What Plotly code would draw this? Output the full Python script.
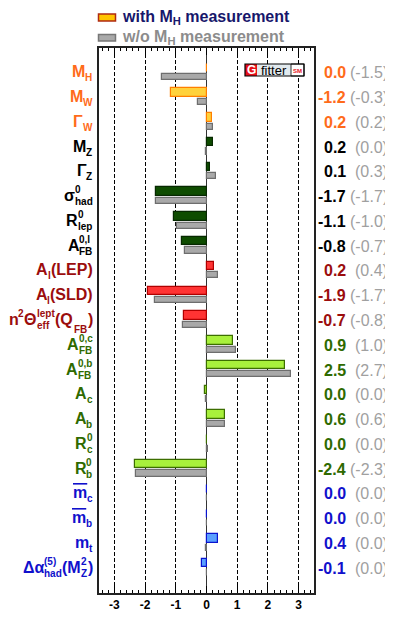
import plotly.graph_objects as go

# ---------------- data ----------------
# label tokens: ("b", text) base, ("u", sub), ("p", sup), ("s", sup, sub) stacked, ("o", overlined base), ("q", low sub)
labels = [
    [("b", "M"), ("u", "H")],
    [("b", "M"), ("u", "W")],
    [("b", "Γ"), ("u", "W")],
    [("b", "M"), ("u", "Z")],
    [("b", "Γ"), ("u", "Z")],
    [("b", "σ"), ("s", "0", "had")],
    [("b", "R"), ("s", "0", "lep")],
    [("b", "A"), ("s", "0,l", "FB")],
    [("b", "A"), ("u", "l"), ("b", "(LEP)")],
    [("b", "A"), ("u", "l"), ("b", "(SLD)")],
    [("b", "n"), ("p", "2"), ("b", "Θ"), ("s", "lept", "eff"), ("b", "(Q"), ("q", "FB"), ("b", ")")],
    [("b", "A"), ("s", "0,c", "FB")],
    [("b", "A"), ("s", "0,b", "FB")],
    [("b", "A"), ("u", "c")],
    [("b", "A"), ("u", "b")],
    [("b", "R"), ("s", "0", "c")],
    [("b", "R"), ("s", "0", "b")],
    [("o", "m"), ("u", "c")],
    [("o", "m"), ("u", "b")],
    [("b", "m"), ("u", "t")],
    [("b", "Δα"), ("s", "(5)", "had"), ("b", "(M"), ("s", "2", "Z"), ("b", ")")],
]
with_mh = [0.03, -1.17, 0.17, 0.2, 0.12, -1.65, -1.05, -0.79, 0.26, -1.9, -0.73,
           0.87, 2.54, -0.05, 0.59, 0.02, -2.33, 0.01, 0.01, 0.39, -0.15]
without_mh = [-1.46, -0.28, 0.2, -0.03, 0.3, -1.65, -0.95, -0.69, 0.36, -1.69, -0.76,
              0.95, 2.75, -0.02, 0.59, 0.05, -2.3, 0.0, 0.0, -0.03, 0.03]
with_txt = ["0.0", "-1.2", "0.2", "0.2", "0.1", "-1.7", "-1.1", "-0.8", "0.2", "-1.9", "-0.7",
            "0.9", "2.5", "0.0", "0.6", "0.0", "-2.4", "0.0", "0.0", "0.4", "-0.1"]
without_txt = ["(-1.5)", "(-0.3)", "(0.2)", "(0.0)", "(0.3)", "(-1.7)", "(-1.0)", "(-0.7)",
               "(0.4)", "(-1.7)", "(-0.8)", "(1.0)", "(2.7)", "(0.0)", "(0.6)", "(0.0)",
               "(-2.3)", "(0.0)", "(0.0)", "(0.0)", "(0.0)"]
groups = ["W"] * 3 + ["Z"] * 5 + ["L"] * 3 + ["H"] * 6 + ["Q"] * 4
tick_vals = [-3, -2, -1, 0, 1, 2, 3]
tick_text = ["-3", "-2", "-1", "0", "1", "2", "3"]

# ---------------- styles ----------------
fill = {"W": "#FFD23C", "Z": "#0E4C00", "L": "#FF3333", "H": "#A8F03C", "Q": "#5AA0FF"}
edge = {"W": "#FF7F00", "Z": "#062800", "L": "#B00000", "H": "#3C6E00", "Q": "#0A14D0"}
txtc = {"W": "#FF6B1A", "Z": "#000000", "L": "#9B0D0D", "H": "#2F6A00", "Q": "#1010CC"}
FONT = "Liberation Sans"
BASE, SCR = 16, 10

# approximate bold glyph widths (per 1000 em)
CW = {" ": 278, "(": 333, ")": 333, ",": 278, ".": 278, "0": 556, "2": 556, "5": 556,
      "A": 722, "B": 722, "D": 722, "E": 667, "F": 611, "H": 722, "L": 611, "M": 833, "P": 667,
      "Q": 778, "R": 722, "S": 667, "W": 944, "Z": 611,
      "a": 556, "b": 611, "c": 556, "d": 611, "e": 556, "f": 333, "h": 611, "l": 278, "m": 889,
      "n": 611, "p": 611, "t": 333, "Γ": 611, "Θ": 778, "Δ": 700, "α": 640, "σ": 640}


def tw(s, size):
    return sum(CW.get(c, 600) for c in s) * size / 1000.0


OFF = 8  # page body margin of the html page
L, R, T, B = 99 - OFF, 314 - OFF, 48 - OFF, 593 - OFF


def PX(px):  # reference pixel -> paper x
    return (px - OFF - L) / (R - L)


def PY(py):
    return (B - (py - OFF)) / (B - T)


ypos = list(range(len(groups)))

fig = go.Figure()
fig.add_trace(go.Bar(
    x=with_mh, y=ypos, orientation="h", width=0.34, offset=-0.37,
    marker=dict(color=[fill[g] for g in groups],
                line=dict(color=[edge[g] for g in groups], width=1.2)),
    showlegend=False, hoverinfo="skip"))
fig.add_trace(go.Bar(
    x=without_mh, y=ypos, orientation="h", width=0.25, offset=0.05,
    marker=dict(color="#A9A9A9", line=dict(color="#6E6E6E", width=1.2)),
    showlegend=False, hoverinfo="skip"))

ann = []


def piece(i, xs, text, size, color, ysh):
    ann.append(dict(xref="paper", yref="y", x=PX(93), xshift=xs, y=i, yshift=ysh,
                    xanchor="left", yanchor="middle", text=text, showarrow=False,
                    borderpad=0, borderwidth=0,
                    font=dict(family=FONT, size=size, color=color, weight="bold")))


Y_B, Y_P, Y_U, Y_Q = 1, 7, -5, -9
for i, g in enumerate(groups):
    toks = labels[i]
    widths = []
    for t in toks:
        if t[0] in ("b", "o"):
            widths.append(tw(t[1], BASE))
        elif t[0] == "s":
            widths.append(max(tw(t[1], SCR), tw(t[2], SCR)) + 0.5)
        elif t[0] == "q":
            widths.append(tw(t[1], SCR) + 1.5)
        else:
            widths.append(tw(t[1], SCR) + 0.5)
    x = -sum(widths)
    c = txtc[g]
    for t, w in zip(toks, widths):
        k = t[0]
        if k == "b":
            piece(i, x, t[1], BASE, c, Y_B)
        elif k == "o":
            piece(i, x, "<span style='text-decoration:overline'>%s</span>" % t[1], BASE, c, Y_B)
        elif k == "u":
            piece(i, x, t[1], SCR, c, Y_U)
        elif k == "q":
            piece(i, x + 1.5, t[1], SCR, c, Y_Q)
        elif k == "p":
            piece(i, x, t[1], SCR, c, Y_P)
        else:
            piece(i, x, t[1], SCR, c, Y_P)
            piece(i, x, t[2], SCR, c, Y_U)
        x += w
    ann.append(dict(xref="paper", yref="y", x=PX(346), y=i, xanchor="right", yanchor="middle",
                    text=with_txt[i], showarrow=False, borderpad=0, borderwidth=0,
                    font=dict(family=FONT, size=16, color=c, weight="bold")))
    ann.append(dict(xref="paper", yref="y", x=PX(388), y=i, xanchor="right", yanchor="middle",
                    text=without_txt[i], showarrow=False, borderpad=0, borderwidth=0,
                    font=dict(family=FONT, size=16, color="#A0A0A0")))

# legend
ann.append(dict(xref="paper", yref="paper", x=PX(122), y=PY(17.5), xanchor="left", yanchor="middle",
                text="with M<sub>H</sub> measurement", showarrow=False, borderpad=0, borderwidth=0,
                font=dict(family=FONT, size=16, color="#17176B", weight="bold")))
ann.append(dict(xref="paper", yref="paper", x=PX(122), y=PY(37.5), xanchor="left", yanchor="middle",
                text="w/o M<sub>H</sub> measurement", showarrow=False, borderpad=0, borderwidth=0,
                font=dict(family=FONT, size=16, color="#8C8C8C", weight="bold")))

shapes = [
    dict(type="rect", xref="paper", yref="paper", x0=PX(98.5), x1=PX(115.5), y0=PY(14), y1=PY(21),
         fillcolor="#FFC400", line=dict(color="#B02A10", width=1.5)),
    dict(type="rect", xref="paper", yref="paper", x0=PX(98.5), x1=PX(115.5), y0=PY(34.5), y1=PY(41),
         fillcolor="#A9A9A9", line=dict(color="#777777", width=1.5)),
    # Gfitter logo
    dict(type="rect", xref="paper", yref="paper", x0=PX(245), x1=PX(257), y0=PY(64), y1=PY(76),
         fillcolor="#E8101A", line=dict(width=0)),
    dict(type="rect", xref="paper", yref="paper", x0=PX(257), x1=PX(291), y0=PY(64), y1=PY(76),
         fillcolor="#E2EAEE", line=dict(width=0)),
    dict(type="rect", xref="paper", yref="paper", x0=PX(291), x1=PX(304), y0=PY(64), y1=PY(76),
         fillcolor="#FFFFFF", line=dict(color="#000000", width=0.8)),
    dict(type="rect", xref="paper", yref="paper", x0=PX(245), x1=PX(304), y0=PY(64), y1=PY(76),
         fillcolor="rgba(0,0,0,0)", line=dict(color="#000000", width=1.2)),
]
ann.append(dict(xref="paper", yref="paper", x=PX(251), y=PY(70), xanchor="center", yanchor="middle",
                text="G", showarrow=False, font=dict(family=FONT, size=12, color="white", weight="bold")))
ann.append(dict(xref="paper", yref="paper", x=PX(274), y=PY(70), xanchor="center", yanchor="middle",
                text="fitter", showarrow=False, font=dict(family=FONT, size=13, color="black")))
ann.append(dict(xref="paper", yref="paper", x=PX(297.5), y=PY(71), xanchor="center", yanchor="middle",
                text="SM", showarrow=False, font=dict(family=FONT, size=6, color="#E8101A", weight="bold")))

fig.update_layout(
    width=393, height=621,
    margin=dict(l=L, r=393 - R, t=T, b=621 - B, pad=0),
    paper_bgcolor="white", plot_bgcolor="white",
    barmode="overlay", bargap=0,
    annotations=ann, shapes=shapes,
    xaxis=dict(range=[-3.5, 3.5], tickmode="array", tickvals=tick_vals, ticktext=tick_text,
               ticks="inside", ticklen=7, tickwidth=1, tickcolor="black",
               minor=dict(dtick=0.2, tick0=0, ticks="inside", ticklen=3.5, tickcolor="black", showgrid=False),
               showgrid=True, gridcolor="black", gridwidth=1, griddash="4px,2px",
               zeroline=True, zerolinecolor="#333333", zerolinewidth=1,
               showline=True, linecolor="#222222", linewidth=1.5, mirror="allticks",
               tickfont=dict(family=FONT, size=12, color="black", weight="bold"), fixedrange=True),
    yaxis=dict(range=[21, -1], showticklabels=False, ticks="", showgrid=False, zeroline=False,
               showline=True, linecolor="#222222", linewidth=1.5, mirror=True, fixedrange=True),
)

fig.write_html("out.html")
